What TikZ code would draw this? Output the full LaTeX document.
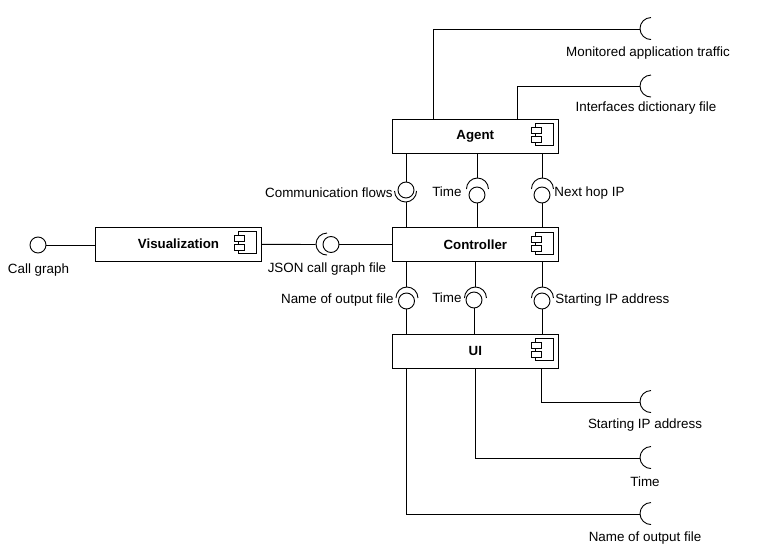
\documentclass[tikz,border=0pt]{standalone}
\usepackage{fontspec}
\setmainfont{Liberation Sans}
\usetikzlibrary{calc}
\tikzstyle{box}=[rectangle,draw=black,line width=0.9pt,fill=white,
  minimum width=165.5pt,minimum height=34pt,inner sep=0pt,
  font=\fontsize{13.3}{15}\selectfont\bfseries]
\tikzstyle{ball}=[circle,draw=black,line width=0.9pt,fill=white,
  minimum size=16pt,inner sep=0pt]
\tikzstyle{cup}=[circle,minimum size=22pt,inner sep=0pt]
\tikzstyle{lbl}=[inner sep=0pt,font=\fontsize{13.4}{15}\selectfont]
\tikzstyle{icon}=[draw=black,line width=0.8pt]
\tikzstyle{none}=[]
\newcommand{\compicon}[1]{%
  \draw [style=icon] ([shift={(-23,-5)}]#1.north east) rectangle ++(18,-22);
  \draw [style=icon,fill=white] ([shift={(-27,-9)}]#1.north east) rectangle ++(10,-6);
  \draw [style=icon,fill=white] ([shift={(-27,-18)}]#1.north east) rectangle ++(10,-6);
}
\begin{document}
\begin{tikzpicture}[x=1pt,y=1pt,line width=0.9pt]
            \useasboundingbox (0,0) rectangle (777,-552);
            \node [style=box] (0) at (475.3, -136) {Agent};
            \node [style=box] (1) at (475.3, -244.5) {Controller};
            \node [style=box] (2) at (475.3, -351) {UI};
            \node [style=box] (3) at (178.5, -244) {Visualization};
            \compicon{0}
            \compicon{1}
            \compicon{2}
            \compicon{3}
            \node [style=ball] (4) at (38, -245) {};
            \node [style=ball] (5) at (331, -244.5) {};
            \node [style=ball] (6) at (406, -190) {};
            \node [style=ball] (7) at (477, -195) {};
            \node [style=ball] (8) at (542, -195) {};
            \node [style=ball] (9) at (406.5, -301) {};
            \node [style=ball] (10) at (474, -300) {};
            \node [style=ball] (11) at (542, -301) {};
            \node [style=cup] (12) at (327, -244.5) {};
            \node [style=cup] (13) at (406, -191) {};
            \node [style=cup] (14) at (477, -189) {};
            \node [style=cup] (15) at (542, -189) {};
            \node [style=cup] (16) at (406.5, -298) {};
            \node [style=cup] (17) at (475, -298) {};
            \node [style=cup] (18) at (542, -298) {};
            \node [style=cup] (19) at (651, -29) {};
            \node [style=cup] (20) at (651, -86.5) {};
            \node [style=cup] (21) at (651, -402) {};
            \node [style=cup] (22) at (651, -458) {};
            \node [style=cup] (23) at (651, -514) {};
            \node [style=lbl] (24) at (38.5, -270) {Call graph};
            \node [style=lbl] (25) at (327, -269) {JSON call graph file};
            \node [style=lbl, anchor=east] (26) at (393, -193) {Communication flows};
            \node [style=lbl, anchor=east] (27) at (462, -192) {Time};
            \node [style=lbl, anchor=west] (28) at (554, -193) {Next hop IP};
            \node [style=lbl, anchor=east] (29) at (394, -300) {Name of output file};
            \node [style=lbl, anchor=east] (30) at (462, -298) {Time};
            \node [style=lbl, anchor=west] (31) at (555, -300) {Starting IP address};
            \node [style=lbl] (32) at (648, -53) {Monitored application traffic};
            \node [style=lbl] (33) at (646, -108) {Interfaces dictionary file};
            \node [style=lbl] (34) at (645, -425) {Starting IP address};
            \node [style=lbl] (35) at (645, -482) {Time};
            \node [style=lbl] (36) at (645, -538) {Name of output file};
            \coordinate (37) at (433, -29);
            \coordinate (38) at (517, -86.5);
            \coordinate (39) at (541, -402);
            \coordinate (40) at (475, -458);
            \coordinate (41) at (406, -514);
            % sockets
            \draw (12.north) arc [start angle=90, end angle=270, radius=11pt];
            \draw (13.west) arc [start angle=180, end angle=360, radius=11pt];
            \draw (14.east) arc [start angle=0, end angle=180, radius=11pt];
            \draw (15.east) arc [start angle=0, end angle=180, radius=11pt];
            \draw (16.east) arc [start angle=0, end angle=180, radius=11pt];
            \draw (17.east) arc [start angle=0, end angle=180, radius=11pt];
            \draw (18.east) arc [start angle=0, end angle=180, radius=11pt];
            \draw (19.north) arc [start angle=90, end angle=270, radius=11pt];
            \draw (20.north) arc [start angle=90, end angle=270, radius=11pt];
            \draw (21.north) arc [start angle=90, end angle=270, radius=11pt];
            \draw (22.north) arc [start angle=90, end angle=270, radius=11pt];
            \draw (23.north) arc [start angle=90, end angle=270, radius=11pt];
            % connectors
            \draw (4) to (4 -| 3.west);
            \draw (3) to (12.west);
            \draw (5) to (5 -| 1.west);
            \draw (6) to (6 |- 0.south);
            \draw (13.south) to (13.south |- 1.north);
            \draw (14.north) to (14.north |- 0.south);
            \draw (7) to (7 |- 1.north);
            \draw (15.north) to (15.north |- 0.south);
            \draw (8) to (8 |- 1.north);
            \draw (16.north) to (16.north |- 1.south);
            \draw (9) to (9 |- 2.north);
            \draw (17.north) to (17.north |- 1.south);
            \draw (10) to (10 |- 2.north);
            \draw (18.north) to (18.north |- 1.south);
            \draw (11) to (11 |- 2.north);
            \draw (37 |- 0.north) to (37) to (19.west);
            \draw (38 |- 0.north) to (38) to (20.west);
            \draw (39 |- 2.south) to (39) to (21.west);
            \draw (40 |- 2.south) to (40) to (22.west);
            \draw (41 |- 2.south) to (41) to (23.west);
    \end{tikzpicture}
\end{document}
